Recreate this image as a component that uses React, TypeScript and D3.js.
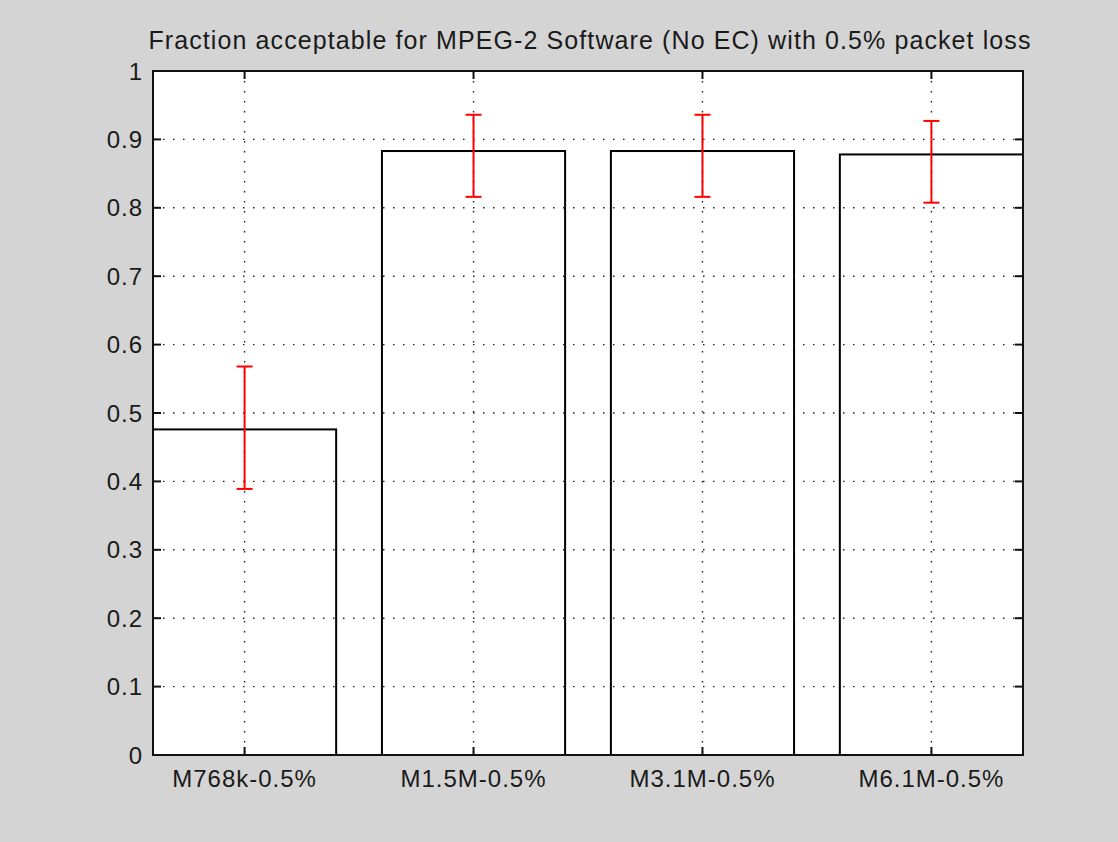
import React from "react";
import * as d3 from "d3";

const categories = ["M768k-0.5%", "M1.5M-0.5%", "M3.1M-0.5%", "M6.1M-0.5%"];
const values = [0.476, 0.883, 0.883, 0.878];
const lowerErr = [0.389, 0.816, 0.816, 0.8075];
const upperErr = [0.568, 0.936, 0.936, 0.927];
const yTicks = [0, 0.1, 0.2, 0.3, 0.4, 0.5, 0.6, 0.7, 0.8, 0.9, 1];
const title = "Fraction acceptable for MPEG-2 Software (No EC) with 0.5% packet loss";

const W = 1118;
const H = 842;
const left = 153;
const right = 1023;
const top = 71;
const bottom = 755;
const font = "'Liberation Sans', Arial, sans-serif";

export default function App() {
  const x = d3.scaleLinear().domain([0.6, 4.4]).range([left, right]);
  const y = d3.scaleLinear().domain([0, 1]).range([bottom, top]);
  const barW = x(1.4) - x(1);
  const tickLen = 8;
  const cap = 8;
  const grid = { stroke: "#222", strokeWidth: 1.4, strokeDasharray: "1.5 8.5" };

  return (
    <svg
      width={W}
      height={H}
      style={{ position: "absolute", left: 0, top: 0, display: "block" }}
    >
      <rect x={0} y={0} width={W} height={H} fill="#d4d4d4" />
      <rect x={left} y={top} width={right - left} height={bottom - top} fill="#fff" />
      {values.map((v, i) => (
        <rect
          key={"b" + i}
          x={x(i + 1) - barW}
          y={y(v)}
          width={barW * 2}
          height={y(0) - y(v)}
          fill="#fff"
          stroke="#000"
          strokeWidth={2}
        />
      ))}
      {yTicks.slice(1, -1).map((t) => (
        <line key={"gy" + t} x1={left} x2={right} y1={y(t)} y2={y(t)} {...grid} />
      ))}
      {categories.map((c, i) => (
        <line key={"gx" + i} x1={x(i + 1)} x2={x(i + 1)} y1={top} y2={bottom} {...grid} />
      ))}
      {values.map((v, i) => {
        const cx = x(i + 1);
        return (
          <g key={"e" + i} stroke="#ff0000" strokeWidth={2}>
            <line x1={cx} x2={cx} y1={y(lowerErr[i])} y2={y(upperErr[i])} />
            <line x1={cx - cap} x2={cx + cap} y1={y(lowerErr[i])} y2={y(lowerErr[i])} />
            <line x1={cx - cap} x2={cx + cap} y1={y(upperErr[i])} y2={y(upperErr[i])} />
          </g>
        );
      })}
      <rect
        x={left}
        y={top}
        width={right - left}
        height={bottom - top}
        fill="none"
        stroke="#111"
        strokeWidth={2}
      />
      {yTicks.map((t) => (
        <g key={"ty" + t} stroke="#111" strokeWidth={2}>
          <line x1={left} x2={left + tickLen} y1={y(t)} y2={y(t)} />
          <line x1={right} x2={right - tickLen} y1={y(t)} y2={y(t)} />
        </g>
      ))}
      {categories.map((c, i) => (
        <g key={"tx" + i} stroke="#111" strokeWidth={2}>
          <line x1={x(i + 1)} x2={x(i + 1)} y1={bottom} y2={bottom - tickLen} />
          <line x1={x(i + 1)} x2={x(i + 1)} y1={top} y2={top + tickLen} />
        </g>
      ))}
      {yTicks.map((t) => (
        <text
          key={"ly" + t}
          x={left - 10}
          y={y(t)}
          dy="0.36em"
          textAnchor="end"
          fontFamily={font}
          fontSize={24}
          letterSpacing={1}
          fill="#1a1a1a"
        >
          {d3.format("~g")(t)}
        </text>
      ))}
      {categories.map((c, i) => (
        <text
          key={"lx" + i}
          x={x(i + 1)}
          y={787}
          textAnchor="middle"
          fontFamily={font}
          fontSize={24}
          letterSpacing={1}
          fill="#1a1a1a"
        >
          {c}
        </text>
      ))}
      <text
        x={590}
        y={49}
        textAnchor="middle"
        fontFamily={font}
        fontSize={25}
        letterSpacing={1.1}
        fill="#1a1a1a"
      >
        {title}
      </text>
    </svg>
  );
}
